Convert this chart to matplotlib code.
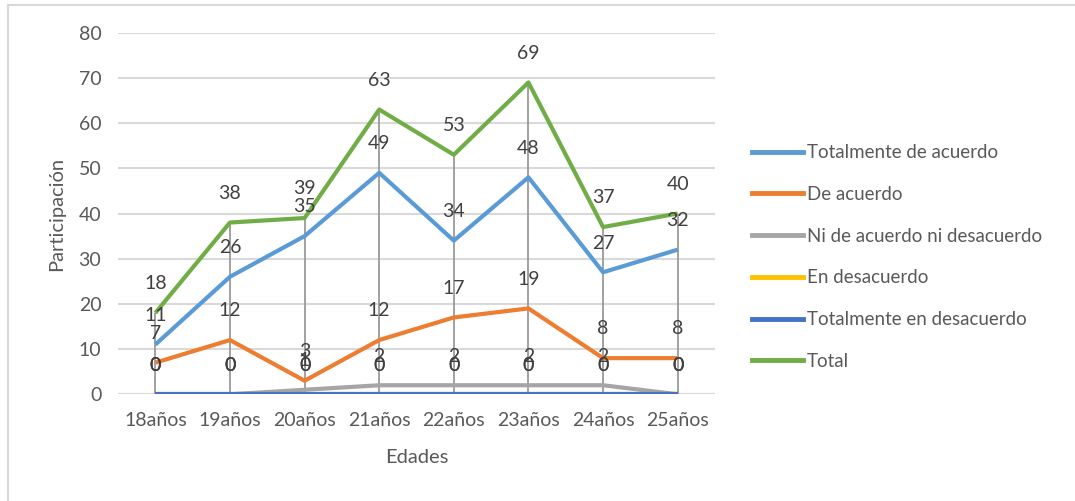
import matplotlib.pyplot as plt
from matplotlib.lines import Line2D

plt.rcParams['font.family'] = ['Lato', 'DejaVu Sans']

edades = ['18años', '19años', '20años', '21años', '22años', '23años', '24años', '25años']
tot_acuerdo = [11, 26, 35, 49, 34, 48, 27, 32]
de_acuerdo = [7, 12, 3, 12, 17, 19, 8, 8]
ni_ni = [0, 0, 1, 2, 2, 2, 2, 0]
en_desacuerdo = [0, 0, 0, 0, 0, 0, 0, 0]
tot_desacuerdo = [0, 0, 0, 0, 0, 0, 0, 0]
total = [18, 38, 39, 63, 53, 69, 37, 40]

series = [
    ('Totalmente de acuerdo', tot_acuerdo, '#5B9BD5'),
    ('De acuerdo', de_acuerdo, '#ED7D31'),
    ('Ni de acuerdo ni desacuerdo', ni_ni, '#A5A5A5'),
    ('En desacuerdo', en_desacuerdo, '#FFC000'),
    ('Totalmente en desacuerdo', tot_desacuerdo, '#4472C4'),
    ('Total', total, '#70AD47'),
]

fig = plt.figure(figsize=(10.75, 5.01), dpi=100)
ax = fig.add_axes([0.1098, 0.2130, 0.5553, 0.7217])

x = list(range(len(edades)))

# drop lines from the axis to the highest point of each category
tops = [max(v) for v in zip(*[s[1] for s in series])]
ax.vlines(x, 0, tops, color='#9a9a9a', lw=1.3, zorder=2)

for name, vals, col in series:
    ax.plot(x, vals, color=col, lw=3, solid_capstyle='butt', zorder=3)
    for xi, v in zip(x, vals):
        ax.annotate(str(v), (xi, v), xytext=(0, 21), textcoords='offset points',
                    ha='center', va='center', fontsize=14, color='#404040', zorder=5)

ax.set_xlim(-0.5, len(edades) - 0.5)
ax.set_ylim(0, 80)
ax.set_yticks(range(0, 81, 10))
ax.set_xticks(x)
ax.set_xticklabels(edades)
ax.yaxis.grid(True, color='#d9d9d9', lw=1.5)
ax.set_axisbelow(True)
for sp in ax.spines.values():
    sp.set_visible(False)
ax.tick_params(axis='both', length=0, labelsize=14, labelcolor='#595959')
ax.tick_params(axis='y', pad=12)
ax.tick_params(axis='x', pad=13)
ax.axhline(0, color='#d9d9d9', lw=1.5, zorder=1)

ax.set_xlabel('Edades', fontsize=14.5, color='#595959', labelpad=14)
ax.set_ylabel('Participación', fontsize=14.5, color='#595959', labelpad=10)

leg_handles = [Line2D([], [], color=c, lw=3.5) for _, _, c in series]
fig.legend(leg_handles, [s[0] for s in series], loc='center left',
           bbox_to_anchor=(752 / 1075, 1 - 257 / 501), frameon=False,
           fontsize=13.5, handlelength=2.7, handletextpad=0.22, labelspacing=1.32,
           borderpad=0, borderaxespad=0, labelcolor='#595959')

# outer chart border (top and left edges only are in view)
fig.add_artist(Line2D([7.5 / 1075, 7.5 / 1075], [0, 1 - 5 / 501], color='#d9d9d9', lw=1.5))
fig.add_artist(Line2D([7.5 / 1075, 1], [1 - 5 / 501, 1 - 5 / 501], color='#d9d9d9', lw=1.5))

fig.savefig('out.png', dpi=100)
